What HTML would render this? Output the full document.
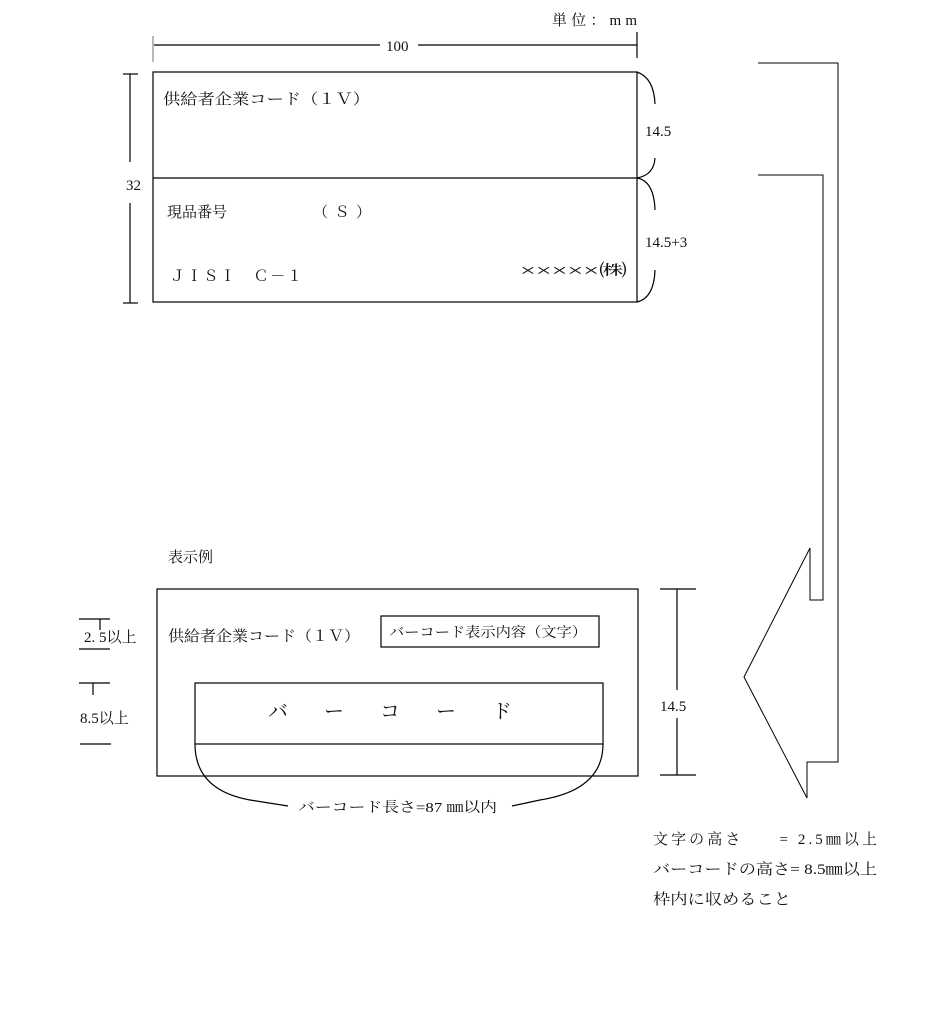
<!DOCTYPE html>
<html><head><meta charset="utf-8"><style>
body{margin:0;background:#fff;}
svg text{font-family:"Liberation Serif","Noto Serif CJK SC","Noto Sans CJK JP",serif;fill:#111;}
</style></head><body>
<svg width="933" height="1016" viewBox="0 0 933 1016" xmlns="http://www.w3.org/2000/svg">
<g fill="none" stroke="#000" stroke-width="1.2">
<line x1="153" y1="36" x2="153" y2="62" stroke="#888"/>
<line x1="637" y1="32" x2="637" y2="58"/>
<line x1="154" y1="45" x2="380" y2="45"/>
<line x1="418" y1="45" x2="637" y2="45"/>
<rect x="153" y="72" width="484" height="230"/>
<line x1="153" y1="178" x2="637" y2="178"/>
<line x1="123" y1="74" x2="138" y2="74"/>
<line x1="123" y1="303" x2="138" y2="303"/>
<line x1="130" y1="74" x2="130" y2="162"/>
<line x1="130" y1="203" x2="130" y2="303"/>
<path d="M637 72 Q654 78 655 104"/>
<path d="M655 158 Q654 175 637 178 Q654 181 655 210"/>
<path d="M655 270 Q654 298 637 302"/>
<path d="M758 63 L838 63 L838 762 L807 762 L807 798 L744 677 L810 548 L810 600 L823 600 L823 175 L758 175" stroke-width="1"/>
<rect x="157" y="589" width="481" height="187"/>
<rect x="381" y="616" width="218" height="31"/>
<rect x="195" y="683" width="408" height="61"/>
<path d="M195 744 Q195 790 250 800 L288 806"/>
<path d="M603 744 Q603 790 540 800 L512 806"/>
<line x1="660" y1="589" x2="696" y2="589"/>
<line x1="660" y1="775" x2="696" y2="775"/>
<line x1="677" y1="589" x2="677" y2="690"/>
<line x1="677" y1="718" x2="677" y2="775"/>
<line x1="79" y1="619" x2="110" y2="619"/>
<line x1="100" y1="619" x2="100" y2="630"/>
<line x1="79" y1="649" x2="110" y2="649"/>
<line x1="79" y1="683" x2="110" y2="683"/>
<line x1="93" y1="683" x2="93" y2="695"/>
<line x1="80" y1="744" x2="111" y2="744"/>
</g>
<g font-size="15">
<text x="552" y="25" textLength="85" lengthAdjust="spacing">単位：mm</text>
<text x="386" y="51">100</text>
<text x="126" y="190">32</text>
<text x="163" y="104" textLength="207" lengthAdjust="spacingAndGlyphs">供給者企業コード（１Ｖ）</text>
<text x="167" y="217">現品番号</text>
<text x="313" y="217" textLength="58" lengthAdjust="spacing">（ Ｓ ）</text>
<text x="170" y="281" textLength="132" lengthAdjust="spacing">ＪＩＳＩ　Ｃ－１</text>
<text x="520" y="276" fill="#334" font-size="17" textLength="107" lengthAdjust="spacingAndGlyphs">×××××㈱</text>
<text x="645" y="136">14.5</text>
<text x="645" y="247">14.5+3</text>
<text x="168" y="562">表示例</text>
<text x="168" y="641" textLength="192" lengthAdjust="spacingAndGlyphs">供給者企業コード（１Ｖ）</text>
<text x="389" y="637" font-size="14" textLength="198" lengthAdjust="spacingAndGlyphs">バーコード表示内容（文字）</text>
<text x="84" y="642">2. 5以上</text>
<text x="80" y="723">8.5以上</text>
<text x="660" y="711">14.5</text>
<text x="268" y="718" font-size="20" textLength="244" lengthAdjust="spacing">バーコード</text>
<text x="298" y="812" font-size="14" textLength="199" lengthAdjust="spacingAndGlyphs">バーコード長さ=87 ㎜以内</text>
<text x="653" y="844" textLength="224" lengthAdjust="spacing">文字の高さ　　=  2.5㎜以上</text>
<text x="653" y="874" textLength="224" lengthAdjust="spacingAndGlyphs">バーコードの高さ= 8.5㎜以上</text>
<text x="653" y="904" textLength="138" lengthAdjust="spacingAndGlyphs">枠内に収めること</text>
</g>
</svg>
</body></html>
